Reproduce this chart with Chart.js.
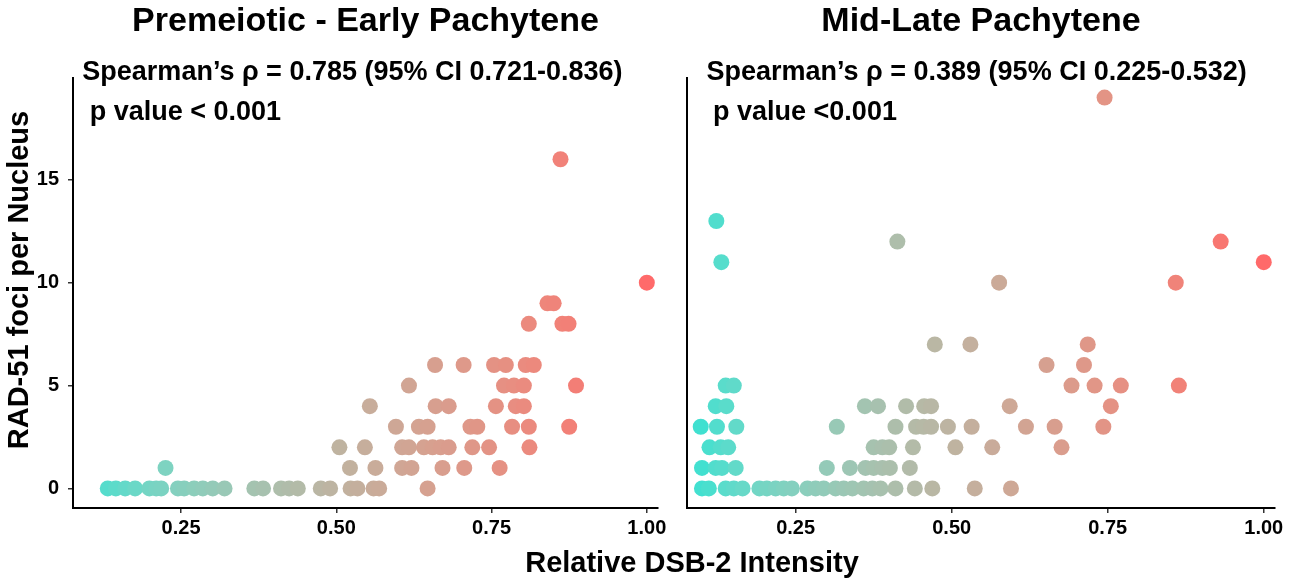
<!DOCTYPE html>
<html>
<head>
<meta charset="utf-8">
<script src="https://cdn.jsdelivr.net/npm/chart.js@4.4.0/dist/chart.umd.min.js"></script>
<style>
  body { margin: 0; background: #fff; }
  #wrap { position: relative; width: 1293px; height: 578px; overflow: hidden; background: #fff;
          font-family: "Liberation Sans", Arial, sans-serif; }
  canvas { position: absolute; top: 0; }
  #early { left: 0; }
  #late { left: 665px; }
  .axis-title { position: absolute; font-weight: bold; color: #000; white-space: nowrap;
                text-align: center; font-size: 29px; line-height: 30px; height: 30px; width: 400px; }
  #xTitle { left: 492px; top: 547px; }
  #yTitle { left: -182px; top: 265px; transform: rotate(-90deg); }
</style>
</head>
<body>
<div id="wrap">
  <canvas id="early" width="680" height="578"></canvas>
  <canvas id="late" width="628" height="578"></canvas>
  <div class="axis-title" id="xTitle">Relative DSB-2 Intensity</div>
  <div class="axis-title" id="yTitle">RAD-51 foci per Nucleus</div>
</div>
<script>
// one entry per nucleus: relative DSB-2 intensity and the RAD-51 foci counted in it
const earlyIntensity = [
  0.132, 0.145, 0.160, 0.176, 0.199, 0.210, 0.218, 0.245, 0.255, 0.271, 0.285, 0.301, 0.320,
  0.368, 0.382, 0.411, 0.424, 0.438, 0.475, 0.490, 0.523, 0.534, 0.560, 0.569, 0.647,
  0.225, 0.522, 0.563, 0.606, 0.621, 0.671, 0.706, 0.763,
  0.505, 0.546, 0.606, 0.617, 0.641, 0.655, 0.668, 0.681, 0.719, 0.746, 0.811,
  0.596, 0.633, 0.647, 0.716, 0.727, 0.783, 0.810, 0.875,
  0.554, 0.660, 0.681, 0.757, 0.789, 0.802,
  0.617, 0.770, 0.786, 0.802, 0.886,
  0.659, 0.705, 0.754, 0.773, 0.805, 0.818,
  0.810, 0.864, 0.874,
  0.840, 0.850,
  1.000,
  0.861
];
const earlyFoci = [
  0, 0, 0, 0, 0, 0, 0, 0, 0, 0, 0, 0, 0,
  0, 0, 0, 0, 0, 0, 0, 0, 0, 0, 0, 0,
  1, 1, 1, 1, 1, 1, 1, 1,
  2, 2, 2, 2, 2, 2, 2, 2, 2, 2, 2,
  3, 3, 3, 3, 3, 3, 3, 3,
  4, 4, 4, 4, 4, 4,
  5, 5, 5, 5, 5,
  6, 6, 6, 6, 6, 6,
  8, 8, 8,
  9, 9,
  10,
  16
];

const lateIntensity = [
  0.100, 0.111, 0.138, 0.151, 0.165, 0.192, 0.204, 0.218, 0.231, 0.244, 0.269, 0.282,
  0.295, 0.314, 0.327, 0.341, 0.359, 0.373, 0.386, 0.410, 0.441, 0.469, 0.537, 0.595,
  0.100, 0.122, 0.132, 0.154, 0.300, 0.337, 0.362, 0.375, 0.389, 0.401, 0.433,
  0.112, 0.130, 0.142, 0.375, 0.389, 0.400, 0.438, 0.506, 0.565, 0.676,
  0.098, 0.124, 0.155, 0.316, 0.410, 0.443, 0.455, 0.467, 0.494, 0.532, 0.619, 0.665, 0.743,
  0.122, 0.139, 0.361, 0.382, 0.427, 0.456, 0.467, 0.593, 0.755,
  0.138, 0.151, 0.692, 0.729, 0.771, 0.864,
  0.652, 0.712,
  0.473, 0.530, 0.718,
  0.576, 0.859,
  0.131, 1.000,
  0.413, 0.931,
  0.123,
  0.745
];
const lateFoci = [
  0, 0, 0, 0, 0, 0, 0, 0, 0, 0, 0, 0,
  0, 0, 0, 0, 0, 0, 0, 0, 0, 0, 0, 0,
  1, 1, 1, 1, 1, 1, 1, 1, 1, 1, 1,
  2, 2, 2, 2, 2, 2, 2, 2, 2, 2,
  3, 3, 3, 3, 3, 3, 3, 3, 3, 3, 3, 3, 3,
  4, 4, 4, 4, 4, 4, 4, 4, 4,
  5, 5, 5, 5, 5, 5,
  6, 6,
  7, 7, 7,
  10, 10,
  11, 11,
  12, 12,
  13,
  19
];

const xTickValues = [0.25, 0.5, 0.75, 1.0];
const xTickLabels = ["0.25", "0.50", "0.75", "1.00"];
const yTickValues = [0, 5, 10, 15];
const yTickLabels = ["0", "5", "10", "15"];

const panelTitles = ["Premeiotic - Early Pachytene", "Mid-Late Pachytene"];
const spearmanLabels = [
  "Spearman\u2019s \u03c1 = 0.785 (95% CI 0.721-0.836)",
  "Spearman\u2019s \u03c1 = 0.389 (95% CI 0.225-0.532)"
];
const pValueLabels = ["p value < 0.001", "p value <0.001"];

const FONT = '"Liberation Sans", Arial, sans-serif';

// colour by intensity, blended in Lab space from turquoise to indianred1
const lowColor = [64, 224, 208];
const highColor = [255, 106, 106];

function rgbToLab(rgb) {
  const lin = rgb.map(c => {
    c = c / 255;
    return c <= 0.04045 ? c / 12.92 : Math.pow((c + 0.055) / 1.055, 2.4);
  });
  const X = (0.4124 * lin[0] + 0.3576 * lin[1] + 0.1805 * lin[2]) / 0.95047;
  const Y = (0.2126 * lin[0] + 0.7152 * lin[1] + 0.0722 * lin[2]);
  const Z = (0.0193 * lin[0] + 0.1192 * lin[1] + 0.9505 * lin[2]) / 1.08883;
  const f = t => t > 0.008856 ? Math.cbrt(t) : 7.787 * t + 16 / 116;
  return [116 * f(Y) - 16, 500 * (f(X) - f(Y)), 200 * (f(Y) - f(Z))];
}

function labToRgb(lab) {
  const fy = (lab[0] + 16) / 116;
  const fx = fy + lab[1] / 500;
  const fz = fy - lab[2] / 200;
  const inv = t => t * t * t > 0.008856 ? t * t * t : (t - 16 / 116) / 7.787;
  const X = 0.95047 * inv(fx), Y = inv(fy), Z = 1.08883 * inv(fz);
  const lin = [
    3.2406 * X - 1.5372 * Y - 0.4986 * Z,
    -0.9689 * X + 1.8758 * Y + 0.0415 * Z,
    0.0557 * X - 0.2040 * Y + 1.0570 * Z
  ];
  return lin.map(c => {
    c = c <= 0.0031308 ? 12.92 * c : 1.055 * Math.pow(c, 1 / 2.4) - 0.055;
    return Math.round(Math.min(1, Math.max(0, c)) * 255);
  });
}

const allIntensity = earlyIntensity.concat(lateIntensity);
const colorMin = Math.min(...allIntensity);
const colorMax = Math.max(...allIntensity);
const lowLab = rgbToLab(lowColor);
const highLab = rgbToLab(highColor);

function intensityColor(v) {
  const t = (v - colorMin) / (colorMax - colorMin);
  const lab = lowLab.map((c, i) => c + (highLab[i] - c) * t);
  const rgb = labToRgb(lab);
  return `rgb(${rgb[0]}, ${rgb[1]}, ${rgb[2]})`;
}

// panel title plus the correlation notes, placed in data units
const panelText = {
  id: "panelText",
  afterDraw(chart, args, opts) {
    const ctx = chart.ctx;
    const area = chart.chartArea;
    const xs = chart.scales.x;
    const ys = chart.scales.y;
    ctx.save();
    ctx.fillStyle = "#000";
    ctx.textAlign = "center";
    ctx.textBaseline = "middle";
    ctx.font = `bold 34px ${FONT}`;
    ctx.fillText(opts.title, (area.left + area.right) / 2, 22);
    ctx.font = `bold 27px ${FONT}`;
    opts.notes.forEach(n => {
      ctx.fillText(n.text, xs.getPixelForValue(n.x), ys.getPixelForValue(n.y));
    });
    ctx.restore();
  }
};

function makePanel(canvasId, xs, ys, idx, cfg) {
  const points = xs.map((x, i) => ({ x: x, y: ys[i] }));
  const tickFont = { family: FONT, size: 20, weight: "bold" };
  const ctx = document.getElementById(canvasId).getContext("2d");
  return new Chart(ctx, {
    type: "scatter",
    data: {
      datasets: [{
        data: points,
        pointRadius: 8,
        pointHoverRadius: 8,
        pointBorderWidth: 0,
        pointBackgroundColor: xs.map(intensityColor)
      }]
    },
    options: {
      responsive: false,
      animation: false,
      devicePixelRatio: 1,
      events: [],
      layout: { padding: { top: 78, right: cfg.padRight, bottom: 0, left: 0 } },
      scales: {
        x: {
          type: "linear",
          min: 0.076,
          max: 1.018,
          afterBuildTicks: s => { s.ticks = xTickValues.map(v => ({ value: v })); },
          afterFit: s => { s.height = 70; },
          ticks: {
            callback: v => xTickLabels[xTickValues.indexOf(v)],
            font: tickFont,
            color: "#000",
            padding: 3,
            maxRotation: 0,
            autoSkip: false
          },
          grid: { drawOnChartArea: false, tickLength: 5, color: "#333", lineWidth: 1.5 },
          border: { color: "#000", width: 2 }
        },
        y: {
          type: "linear",
          min: -0.95,
          max: 19.95,
          afterBuildTicks: s => { s.ticks = yTickValues.map(v => ({ value: v })); },
          afterFit: s => { s.width = cfg.yWidth; },
          ticks: {
            display: cfg.showYTicks,
            callback: v => yTickLabels[yTickValues.indexOf(v)],
            font: tickFont,
            color: "#000",
            padding: 9
          },
          grid: { display: cfg.showYTicks, drawOnChartArea: false, tickLength: 5, color: "#333", lineWidth: 1.5 },
          border: { color: "#000", width: 2 }
        }
      },
      plugins: {
        legend: { display: false },
        tooltip: { enabled: false },
        panelText: {
          title: panelTitles[idx],
          notes: [
            { text: spearmanLabels[idx], x: cfg.noteX[0], y: 20.2 },
            { text: pValueLabels[idx], x: cfg.noteX[1], y: 18.25 }
          ]
        }
      }
    },
    plugins: [panelText]
  });
}

makePanel("early", earlyIntensity, earlyFoci, 0,
  { padRight: 22, yWidth: 73, showYTicks: true, noteX: [0.526, 0.257] });
makePanel("late", lateIntensity, lateFoci, 1,
  { padRight: 18, yWidth: 22, showYTicks: false, noteX: [0.540, 0.265] });
</script>
</body>
</html>
